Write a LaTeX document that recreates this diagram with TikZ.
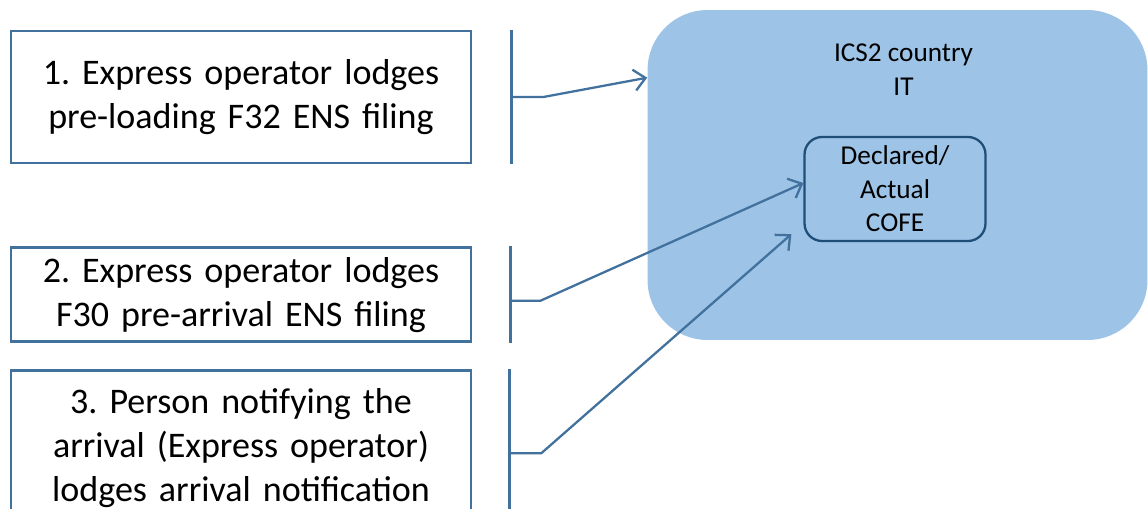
\documentclass[tikz,border=0pt]{standalone}
\usepackage{fontspec}
\setmainfont{Carlito}
\usetikzlibrary{positioning,calc,arrows.meta}
\definecolor{edgeblue}{HTML}{41719C}
\definecolor{zonefill}{HTML}{9DC3E6}
\definecolor{cofeedge}{HTML}{1F4E79}
\frenchspacing

\begin{document}
\begin{tikzpicture}[
    x=0.02cm, y=-0.02cm,
    filing/.style={rectangle, draw=edgeblue, line width=1.6pt, minimum width=9.2cm, text width=9cm, align=center, inner sep=0pt, font=\fontsize{20.5}{25.2}\selectfont},
    zone/.style={rectangle, fill=zonefill, rounded corners=1.2cm, minimum width=10cm, minimum height=6.6cm},
    cofe/.style={rectangle, draw=cofeedge, line width=1.3pt, rounded corners=0.35cm, minimum width=3.62cm, minimum height=2.08cm, align=center, inner sep=0pt, font=\fontsize{15.5}{19}\selectfont},
    line/.style={draw=edgeblue, line width=1.3pt},
    feed/.style={line, -{Straight Barb[length=6.5pt, width=12pt, line width=1.3pt]}}
]
\useasboundingbox (0,0) rectangle (1148,508);
\clip (0,0) rectangle (1148,508);

% Nodes
\node [filing, minimum height=2.64cm] (b1) at (241,97) {1. Express operator lodges\\pre-loading F32 ENS filing};
\node [filing, minimum height=1.88cm, below=1.64cm of b1] (b2) {2. Express operator lodges\\F30 pre-arrival ENS filing};
\node [filing, minimum height=3.1cm, below=0.52cm of b2] (b3) {3. Person notifying the\\arrival (Express operator)\\lodges arrival notification};

\node [zone] (zone) at (897.5,175) {};
\node [align=center, inner sep=0pt, font=\fontsize{15.5}{19}\selectfont] (ics) at ($(zone.north)+(6,60)$) {ICS2 country\\IT};
\node [cofe] (cofe) at (895,189) {Declared/\\Actual\\COFE};

% Connections - bracket, tick, then arrow
\coordinate (in1) at ($(zone.north west)+(0,68)$);
\draw [line] ($(b1.north east)+(39,0)$) -- ($(b1.south east)+(39,0)$);
\draw [feed] ($(b1.east)+(39,0)$) -- ++(32,0) -- (in1);

\draw [line] ($(b2.north east)+(38,0)$) -- ($(b2.south east)+(38,0)$);
\draw [feed] ($(b2.east)+(38,6)$) -- ++(30,0) -- ($(cofe.west)+(0,-6)$);

\draw [line] ($(b3.north east)+(37,0)$) -- ($(b3.north east)+(37,160)$);
\draw [feed] ($(b3.north east)+(37,84)$) -- ++(32,0) -- ($(cofe.south west)+(-12,-8)$);

\end{tikzpicture}
\end{document}
